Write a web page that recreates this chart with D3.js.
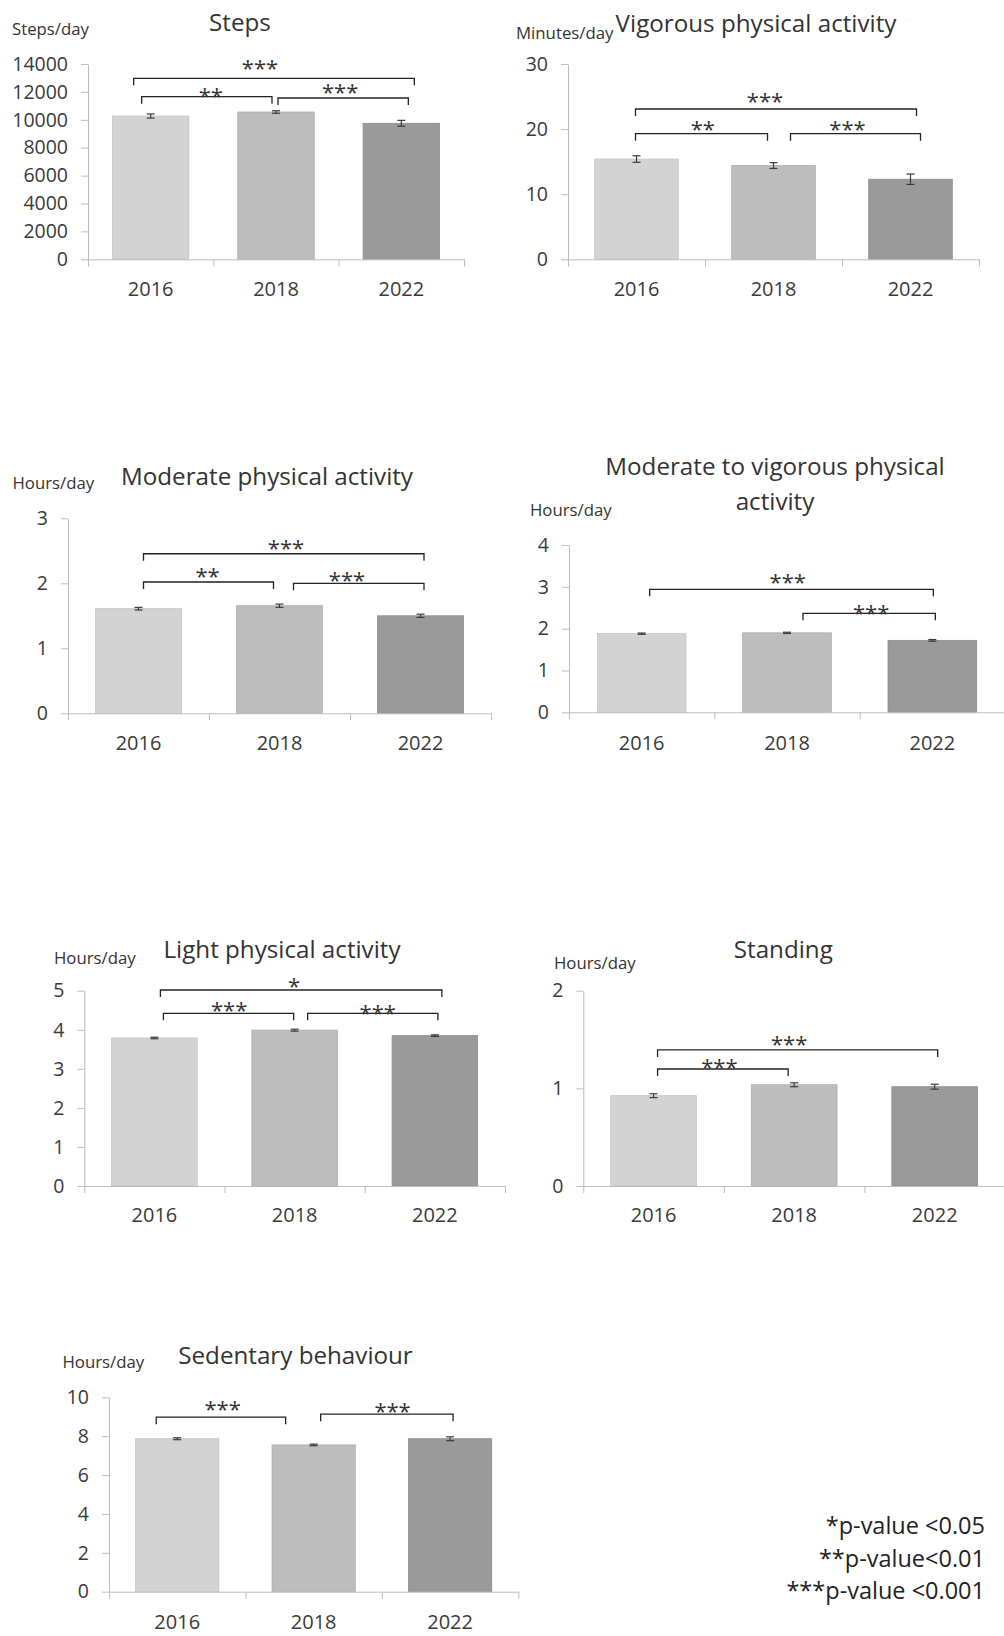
<!DOCTYPE html>
<html>
<head>
<meta charset="utf-8">
<script src="https://cdn.jsdelivr.net/npm/d3@7"></script>
<style>
  body { margin: 0; background: #fff; }
  svg { display: block; }
  text { font-family: "Open Sans", "DejaVu Sans", sans-serif; }
</style>
</head>
<body>
<svg id="fig" width="1004" height="1636"></svg>
<script>
// ---- data -------------------------------------------------------------
const years = ["2016", "2018", "2022"];

const stepsMean = [10270, 10560, 9750];
const stepsErr  = [150, 90, 210];
const stepsTicks = [0, 2000, 4000, 6000, 8000, 10000, 12000, 14000];
const stepsSig = [["2016", "2022", "***"], ["2016", "2018", "**"], ["2018", "2022", "***"]];

const vigorousMean = [15.4, 14.4, 12.3];
const vigorousErr  = [0.5, 0.45, 0.8];
const vigorousTicks = [0, 10, 20, 30];
const vigorousSig = [["2016", "2022", "***"], ["2016", "2018", "**"], ["2018", "2022", "***"]];

const moderateMean = [1.61, 1.655, 1.50];
const moderateErr  = [0.02, 0.025, 0.025];
const moderateTicks = [0, 1, 2, 3];
const moderateSig = [["2016", "2022", "***"], ["2016", "2018", "**"], ["2018", "2022", "***"]];

const mvpaMean = [1.88, 1.90, 1.72];
const mvpaErr  = [0.015, 0.015, 0.02];
const mvpaTicks = [0, 1, 2, 3, 4];
const mvpaSig = [["2016", "2022", "***"], ["2018", "2022", "***"]];

const lightMean = [3.79, 3.99, 3.85];
const lightErr  = [0.02, 0.025, 0.02];
const lightTicks = [0, 1, 2, 3, 4, 5];
const lightSig = [["2016", "2022", "*"], ["2016", "2018", "***"], ["2018", "2022", "***"]];

const standingMean = [0.925, 1.037, 1.017];
const standingErr  = [0.02, 0.02, 0.025];
const standingTicks = [0, 1, 2];
const standingSig = [["2016", "2022", "***"], ["2016", "2018", "***"]];

const sedentaryMean = [7.87, 7.55, 7.87];
const sedentaryErr  = [0.05, 0.04, 0.1];
const sedentaryTicks = [0, 2, 4, 6, 8, 10];
const sedentarySig = [["2016", "2018", "***"], ["2018", "2022", "***"]];

const legendLines = ["*p-value <0.05", "**p-value<0.01", "***p-value <0.001"];

// ---- panels: content -------------------------------------------------
const panels = [
  { title: ["Steps"], unit: "Steps/day", mean: stepsMean, err: stepsErr, ticks: stepsTicks, sig: stepsSig },
  { title: ["Vigorous physical activity"], unit: "Minutes/day", mean: vigorousMean, err: vigorousErr, ticks: vigorousTicks, sig: vigorousSig },
  { title: ["Moderate physical activity"], unit: "Hours/day", mean: moderateMean, err: moderateErr, ticks: moderateTicks, sig: moderateSig },
  { title: ["Moderate to vigorous physical", "activity"], unit: "Hours/day", mean: mvpaMean, err: mvpaErr, ticks: mvpaTicks, sig: mvpaSig },
  { title: ["Light physical activity"], unit: "Hours/day", mean: lightMean, err: lightErr, ticks: lightTicks, sig: lightSig },
  { title: ["Standing"], unit: "Hours/day", mean: standingMean, err: standingErr, ticks: standingTicks, sig: standingSig },
  { title: ["Sedentary behaviour"], unit: "Hours/day", mean: sedentaryMean, err: sedentaryErr, ticks: sedentaryTicks, sig: sedentarySig }
];

// ---- panels: layout ---------------------------------------------------
// plot box, title centre, unit label anchor, category label row,
// and per-bracket placement: [level (y units), left nudge, right nudge, star dx, star dy]
const layout = [
  { x0: 88, x1: 464, yTop: 64, yBase: 259.3, title: [240, 22.7], titleGap: 0, unit: [12, 29], xLab: 289,
    br: [[12975, -17, 13, -14, -15.3], [11656, -9, -4, 4, -5.7], [11563, 2, 7, -3, -11]] },
  { x0: 568, x1: 979, yTop: 64, yBase: 259.3, title: [756, 23], titleGap: 0, unit: [516, 32.5], xLab: 289,
    br: [[23.09, -1, 6, -11, -13.3], [19.29, -1, -6, 1.3, -9.7], [19.29, 17, 10, -8, -9.7]] },
  { x0: 68, x1: 491, yTop: 518.3, yBase: 713.3, title: [267, 476.7], titleGap: 0, unit: [12.5, 482.7], xLab: 743,
    br: [[2.455, 5, 3.5, 2.3, -11], [2.02, 5, -6, -1, -11.3], [2.0, 14, 3.5, -11.7, -8.6]] },
  { x0: 569, x1: 1005, yTop: 545, yBase: 712.3, title: [775, 466.7], titleGap: 35, unit: [530, 510], xLab: 743,
    br: [[2.94, 8, 1, -3.7, -12.6], [2.367, 16, 3, 2, -5]] },
  { x0: 84.3, x1: 505, yTop: 990.7, yBase: 1186, title: [282, 949.3], titleGap: 0, unit: [54, 958.3], xLab: 1215,
    br: [[5.018, 6, 7, -7, -9.3], [4.42, 9, -1, 0.6, -8.3], [4.42, 13, 3, 5, -5]] },
  { x0: 583.3, x1: 1005, yTop: 990.7, yBase: 1186, title: [783.3, 949.3], titleGap: 0, unit: [554, 962.7], xLab: 1215,
    br: [[1.393, 4, 3, -8.5, -11], [1.198, 4, -6, -3.5, -6.7]] },
  { x0: 109, x1: 518.3, yTop: 1397.3, yBase: 1591.7, title: [295.5, 1355], titleGap: 0, unit: [62.5, 1362.3], xLab: 1621.7,
    br: [[8.976, -21, -28, 1.7, -13.3], [9.13, 7, 3, 5.7, -8.3]] }
];

const barColor = d3.scaleOrdinal().domain(years).range(["#d3d3d3", "#bdbdbd", "#9a9a9a"]);
const barEdge  = d3.scaleOrdinal().domain(years).range(["#c4c4c4", "#adadad", "#8c8c8c"]);

const starSize = 22;
const svg = d3.select("#fig");

panels.forEach((p, i) => {
  const L = layout[i];
  const g = svg.append("g");
  const yMax = p.ticks[p.ticks.length - 1];

  const x = d3.scaleBand().domain(years).range([L.x0, L.x1])
    .paddingInner(0.39).paddingOuter(0.195);
  const y = d3.scaleLinear().domain([0, yMax]).range([L.yBase, L.yTop]);
  const cx = d => x(d) + x.bandwidth() / 2;

  // bars
  g.selectAll("rect.bar").data(years).join("rect")
    .attr("class", "bar")
    .attr("x", d => x(d))
    .attr("width", x.bandwidth())
    .attr("y", (d, j) => y(p.mean[j]))
    .attr("height", (d, j) => y(0) - y(p.mean[j]))
    .attr("fill", d => barColor(d))
    .attr("stroke", d => barEdge(d))
    .attr("stroke-width", 0.8);

  // y axis
  const yAxis = d3.axisLeft(y).tickValues(p.ticks).tickFormat(d3.format("d"))
    .tickSize(7).tickSizeOuter(0).tickPadding(13);
  const ya = g.append("g").attr("transform", `translate(${L.x0},0)`).call(yAxis);
  ya.select(".domain").attr("stroke", "#bdbdbd");
  ya.selectAll(".tick line").attr("stroke", "#bdbdbd");
  ya.selectAll(".tick text").attr("fill", "#3a3a3a").style("font-size", "19.5px");

  // x axis: base line, category boundary ticks, year labels
  const xb = d3.scaleLinear().domain([0, years.length]).range([L.x0, L.x1]);
  const xAxis = d3.axisBottom(xb).tickValues(d3.range(years.length + 1))
    .tickSize(7).tickSizeOuter(0).tickFormat("");
  const xa = g.append("g").attr("transform", `translate(0,${L.yBase})`).call(xAxis);
  xa.select(".domain").attr("stroke", "#bdbdbd");
  xa.selectAll(".tick line").attr("stroke", "#bdbdbd");

  g.selectAll("text.xlab").data(years).join("text")
    .attr("class", "xlab")
    .attr("x", d => cx(d))
    .attr("y", L.xLab)
    .attr("dy", "0.36em")
    .attr("text-anchor", "middle")
    .attr("fill", "#3a3a3a")
    .style("font-size", "20px")
    .text(d => d);

  // error bars
  const eb = g.selectAll("g.err").data(years).join("g").attr("class", "err")
    .attr("stroke", "#3c3c3c").attr("stroke-width", 1.2).attr("fill", "none");
  eb.append("line")
    .attr("x1", d => cx(d)).attr("x2", d => cx(d))
    .attr("y1", (d, j) => y(p.mean[j] - p.err[j]))
    .attr("y2", (d, j) => y(p.mean[j] + p.err[j]));
  [-1, 1].forEach(s => {
    eb.append("line")
      .attr("x1", d => cx(d) - 4).attr("x2", d => cx(d) + 4)
      .attr("y1", (d, j) => y(p.mean[j] + s * p.err[j]))
      .attr("y2", (d, j) => y(p.mean[j] + s * p.err[j]));
  });

  // significance brackets
  p.sig.forEach((s, k) => {
    const [lev, nl, nr, sdx, sdy] = L.br[k];
    const xa1 = cx(s[0]) + nl, xa2 = cx(s[1]) + nr, yl = y(lev);
    g.append("path")
      .attr("d", `M${xa1},${yl + 7}V${yl}H${xa2}V${yl + 7}`)
      .attr("fill", "none").attr("stroke", "#222").attr("stroke-width", 1.3);
    g.append("text")
      .attr("x", (xa1 + xa2) / 2 + sdx)
      .attr("y", yl + sdy + 0.59 * starSize)
      .attr("text-anchor", "middle")
      .attr("fill", "#333")
      .style("font-size", starSize + "px")
      .text(s[2]);
  });

  // title and unit label
  p.title.forEach((t, k) => {
    g.append("text")
      .attr("x", L.title[0]).attr("y", L.title[1] + k * L.titleGap)
      .attr("dy", "0.36em")
      .attr("text-anchor", "middle")
      .attr("fill", "#333")
      .style("font-size", "24.2px")
      .text(t);
  });
  g.append("text")
    .attr("x", L.unit[0]).attr("y", L.unit[1])
    .attr("dy", "0.36em")
    .attr("fill", "#333")
    .style("font-size", "16.8px")
    .text(p.unit);
});

// significance legend
svg.append("g").selectAll("text").data(legendLines).join("text")
  .attr("x", 985)
  .attr("y", (d, i) => 1526 + i * 32.3)
  .attr("dy", "0.36em")
  .attr("text-anchor", "end")
  .attr("fill", "#222")
  .style("font-size", "23.5px")
  .text(d => d);
</script>
</body>
</html>
